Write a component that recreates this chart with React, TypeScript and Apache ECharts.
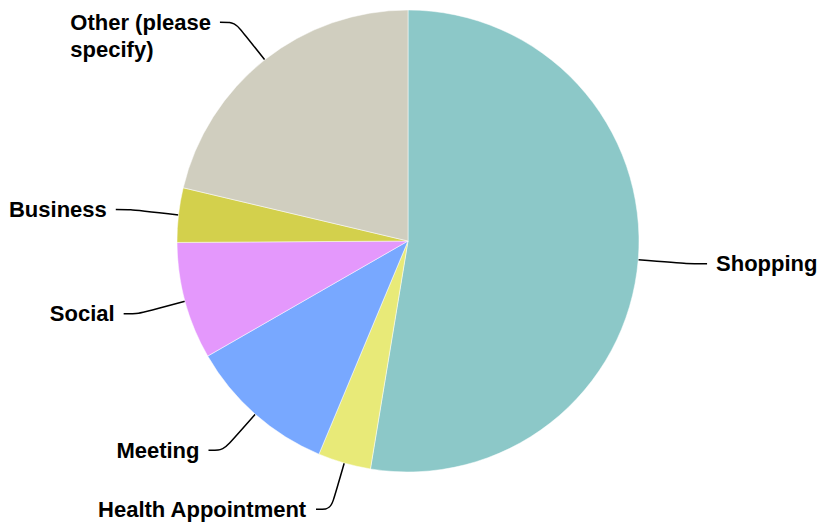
import React, { useEffect, useRef } from "react";
import * as echarts from "echarts";

const categories = ["Shopping", "Health Appointment", "Meeting", "Social", "Business", "Other (please specify)"];
const values = [52.6, 3.7, 10.4, 8.2, 3.8, 21.3];
const colors = ["#8cc8c8", "#e8ea78", "#78a8ff", "#e498fc", "#d3d04c", "#d0cebf"];

export default function App() {
  const ref = useRef<HTMLDivElement>(null);
  useEffect(() => {
    const chart = echarts.init(ref.current!, null, { renderer: "svg" });
    chart.setOption({
      animation: false,
      series: [
        {
          type: "pie",
          center: [408, 241],
          radius: 231,
          startAngle: 90,
          clockwise: true,
          avoidLabelOverlap: false,
          data: categories.map((c, i) => ({
            name: c,
            value: values[i],
            itemStyle: { color: colors[i] },
            ...(i === 0 ? { labelLine: { length2: 21 } } : {}),
          })),
          itemStyle: { borderColor: "#fff", borderWidth: 0.5 },
          label: {
            color: "#000",
            fontWeight: "bold",
            fontSize: 22,
            fontFamily: "Liberation Sans, Arial, sans-serif",
            lineHeight: 27,
            distanceToLabelLine: 9,
            formatter: (p: any) =>
              p.name === "Other (please specify)" ? "{e|}\n{a|Other (please}\n{a|specify)}" : "{a|" + p.name + "}",
            rich: {
              a: {
                align: "left",
                color: "#000",
                fontWeight: "bold",
                fontSize: 22,
                fontFamily: "Liberation Sans, Arial, sans-serif",
                lineHeight: 27,
              },
              e: { lineHeight: 27, fontSize: 22 },
            },
          },
          labelLine: {
            show: true,
            length: 48,
            length2: 15,
            smooth: true,
            lineStyle: { color: "#000", width: 1.5 },
          },
        },
      ],
    });
    return () => chart.dispose();
  }, []);
  return <div ref={ref} style={{ position: "absolute", left: 0, top: 0, width: 819, height: 532 }} />;
}
